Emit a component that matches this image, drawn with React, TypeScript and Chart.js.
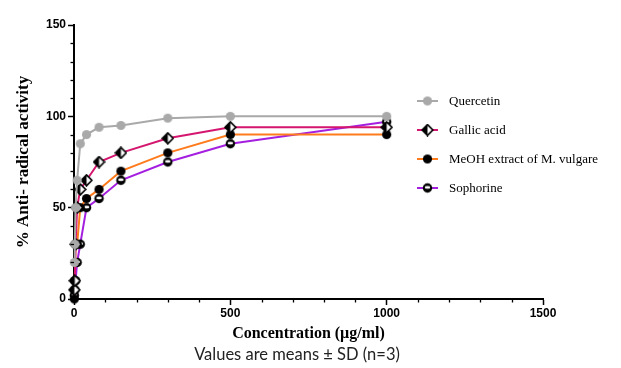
import { useEffect, useRef } from "react";
import { Chart, registerables } from "chart.js";
Chart.register(...registerables);

const concentrations = [1, 2.5, 5, 10, 20, 40, 80, 150, 300, 500, 1000];
const quercetin = [20, 30, 50, 65, 85, 90, 94, 95, 99, 100, 100];
const gallicAcid = [5, 10, 30, 50, 60, 65, 75, 80, 88, 94, 94];
const meohExtract = [0, 10, 30, 30, 50, 55, 60, 70, 80, 90, 90];
const sophorine = [2, 5, 10, 20, 30, 50, 55, 65, 75, 85, 97];
const seriesNames = ["Quercetin", "Gallic acid", "MeOH extract of M. vulgare", "Sophorine"];
const seriesColors = ["#a9a9a9", "#d4166f", "#ff7b1c", "#a51fe0"];
const xMajorTicks = [0, 500, 1000, 1500];
const yMajorTicks = [0, 50, 100, 150];

function makeMarker(kind: string): HTMLCanvasElement {
  const s = 13;
  const c = document.createElement("canvas");
  c.width = s;
  c.height = s;
  const g = c.getContext("2d")!;
  const m = s / 2;
  if (kind === "gray") {
    g.fillStyle = "#a9a9a9";
    g.beginPath();
    g.arc(m, m, 4.6, 0, Math.PI * 2);
    g.fill();
  } else if (kind === "black") {
    g.fillStyle = "#000";
    g.beginPath();
    g.arc(m, m, 4.6, 0, Math.PI * 2);
    g.fill();
  } else if (kind === "diamond") {
    const r = 5.4;
    g.beginPath();
    g.moveTo(m, m - r);
    g.lineTo(m + r, m);
    g.lineTo(m, m + r);
    g.lineTo(m - r, m);
    g.closePath();
    g.fillStyle = "#fff";
    g.fill();
    g.save();
    g.clip();
    g.fillStyle = "#000";
    g.fillRect(0, 0, m, s);
    g.restore();
    g.strokeStyle = "#000";
    g.lineWidth = 1.7;
    g.stroke();
  } else if (kind === "half") {
    g.fillStyle = "#000";
    g.beginPath();
    g.arc(m, m, 4.7, 0, Math.PI * 2);
    g.fill();
    g.fillStyle = "#fff";
    g.beginPath();
    g.ellipse(m, m - 0.6, 2.8, 1.4, 0, 0, Math.PI * 2);
    g.fill();
  }
  return c;
}

export default function App() {
  const ref = useRef<HTMLCanvasElement | null>(null);
  useEffect(() => {
    if (!ref.current) return;
    const markers = [makeMarker("gray"), makeMarker("diamond"), makeMarker("black"), makeMarker("half")];
    const seriesValues = [quercetin, gallicAcid, meohExtract, sophorine];
    const datasets = seriesValues.map((vals, i) => ({
      label: seriesNames[i],
      data: vals.map((v, j) => ({ x: concentrations[j], y: v })),
      borderColor: seriesColors[i],
      backgroundColor: seriesColors[i],
      borderWidth: 2,
      pointStyle: markers[i] as any,
      pointRadius: 5,
      tension: 0,
      clip: false as any,
    }));

    const minorTicks = {
      id: "minorTicks",
      afterDraw(chart: any) {
        const { ctx } = chart;
        const xs = chart.scales.x;
        const ys = chart.scales.y;
        const left = chart.chartArea.left;
        const bottom = chart.chartArea.bottom;
        ctx.save();
        ctx.strokeStyle = "#000";
        ctx.lineWidth = 1.3;
        for (let v = 10; v < 150; v += 10) {
          if (v % 50 === 0) continue;
          const py = Math.round(ys.getPixelForValue(v)) + 0.5;
          ctx.beginPath();
          ctx.moveTo(left - 3.5, py);
          ctx.lineTo(left, py);
          ctx.stroke();
        }
        for (let v = 100; v < 1500; v += 100) {
          if (v % 500 === 0) continue;
          const px = Math.round(xs.getPixelForValue(v)) + 0.5;
          ctx.beginPath();
          ctx.moveTo(px, bottom);
          ctx.lineTo(px, bottom + 3.5);
          ctx.stroke();
        }
        ctx.restore();
      },
    };

    const legendPlugin = {
      id: "customLegend",
      afterDatasetsDraw(chart: any) {
        const { ctx } = chart;
        const x0 = 417;
        const x1 = 438;
        const ys = [101, 130, 159, 188];
        ctx.save();
        seriesNames.forEach((name, i) => {
          const y = ys[i];
          ctx.strokeStyle = seriesColors[i];
          ctx.lineWidth = 2;
          ctx.beginPath();
          ctx.moveTo(x0, y);
          ctx.lineTo(x1, y);
          ctx.stroke();
          const mk = markers[i];
          ctx.drawImage(mk, (x0 + x1) / 2 - mk.width / 2, y - mk.height / 2);
          ctx.fillStyle = "#000";
          ctx.font = "13px 'Liberation Serif', serif";
          ctx.textBaseline = "middle";
          ctx.textAlign = "left";
          ctx.fillText(name, 449, y + 1);
        });
        ctx.restore();
      },
    };

    const tickFont = { family: "'Liberation Sans', Arial, sans-serif", size: 12, weight: "bold" as const };

    const chart = new Chart(ref.current, {
      type: "line",
      data: { datasets: datasets as any },
      options: {
        animation: false,
        responsive: false,
        devicePixelRatio: 1,
        layout: { padding: { top: 25, right: 78, bottom: 0, left: 0 } },
        plugins: { legend: { display: false }, tooltip: { enabled: false } },
        scales: {
          x: {
            type: "linear",
            min: 0,
            max: 1500,
            afterBuildTicks: (scale: any) => {
              scale.ticks = xMajorTicks.map((v) => ({ value: v }));
            },
            afterFit: (scale: any) => {
              scale.height = 69;
            },
            ticks: {
              color: "#000",
              font: tickFont,
              padding: 1,
              maxRotation: 0,
              autoSkip: false,
              callback: (v: any) => String(v),
            },
            grid: { drawOnChartArea: false, tickLength: 6, color: "#000", tickWidth: 1.5 },
            border: { color: "#000", width: 2 },
            title: {
              display: true,
              text: "Concentration (µg/ml)",
              color: "#000",
              font: { family: "'Liberation Serif', serif", size: 16, weight: "bold" },
              padding: { top: 0, bottom: 25 },
            },
          },
          y: {
            type: "linear",
            min: 0,
            max: 150,
            afterBuildTicks: (scale: any) => {
              scale.ticks = yMajorTicks.map((v) => ({ value: v }));
            },
            afterFit: (scale: any) => {
              scale.width = 74;
            },
            ticks: {
              color: "#000",
              font: tickFont,
              padding: 2,
              autoSkip: false,
              callback: (v: any) => String(v),
            },
            grid: { drawOnChartArea: false, tickLength: 6, color: "#000", tickWidth: 1.5 },
            border: { color: "#000", width: 2 },
            title: {
              display: true,
              text: "% Anti- radical activity",
              color: "#000",
              font: { family: "'Liberation Serif', serif", size: 17, weight: "bold" },
              padding: { top: 13, bottom: 0 },
            },
          },
        },
      },
      plugins: [minorTicks, legendPlugin],
    });
    return () => chart.destroy();
  }, []);

  return (
    <div style={{ position: "absolute", left: 0, top: 0, width: 621, height: 368, background: "#fff" }}>
      <canvas ref={ref} width={621} height={368} style={{ display: "block" }} />
      <div
        style={{
          position: "absolute",
          left: 0,
          width: 594,
          top: 344,
          textAlign: "center",
          fontFamily: "Lato, 'Open Sans', sans-serif",
          fontSize: 16.5,
          color: "#222",
          lineHeight: "20px",
        }}
      >
        Values are means ± SD (n=3)
      </div>
    </div>
  );
}
